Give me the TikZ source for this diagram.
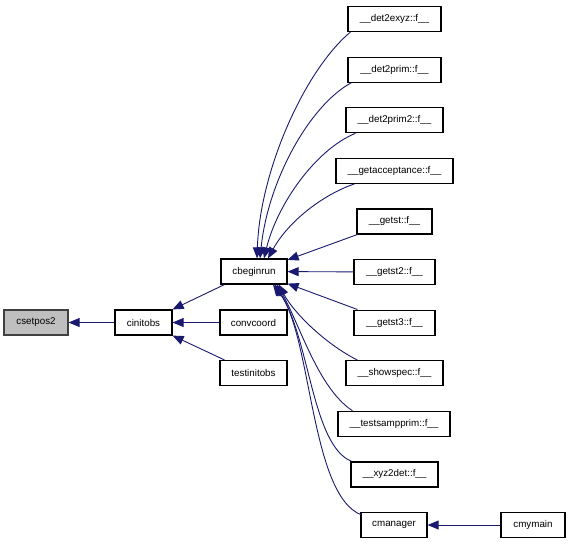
\documentclass[tikz,border=0pt]{standalone}
\usepackage{fontspec}
\setmainfont{Liberation Sans}
\usetikzlibrary{arrows.meta,calc}
\definecolor{edgecol}{RGB}{25,25,112}
\definecolor{hilite}{RGB}{191,191,191}
\begin{document}
\begin{tikzpicture}[x=1pt,y=-1pt,
  box/.style={draw=black, line width=1.2pt, minimum height=25pt, inner sep=0pt,
    font=\fontsize{9.8}{11}\selectfont, fill=white},
  edge/.style={draw=edgecol, line width=0.9pt, -{Triangle[length=11pt,width=9pt,fill=edgecol]}},
]
\useasboundingbox (0,0) rectangle (569,544);
% left part
\node[box, fill=hilite, draw=black!75, minimum width=64pt] (csetpos2) at (36,322.5) {csetpos2};
\node[box, minimum width=57pt] (cinitobs) at (143.5,322.5) {cinitobs};
\node[box, minimum width=66pt] (cbeginrun) at (254,271.5) {cbeginrun};
\node[box, minimum width=67pt] (convcoord) at (253.5,322.5) {convcoord};
\node[box, minimum width=67pt] (testinitobs) at (253.5,373) {testinitobs};
% right column
\node[box, minimum width=93pt] (det2exyz) at (394.5,19) {\_\_det2exyz::f\_\_};
\node[box, minimum width=93pt] (det2prim) at (394.5,69.6) {\_\_det2prim::f\_\_};
\node[box, minimum width=97pt] (det2prim2) at (394.5,120.2) {\_\_det2prim2::f\_\_};
\node[box, minimum width=117pt] (getacceptance) at (394.5,170.8) {\_\_getacceptance::f\_\_};
\node[box, minimum width=75pt] (getst) at (394.5,221.4) {\_\_getst::f\_\_};
\node[box, minimum width=81pt] (getst2) at (394.5,272) {\_\_getst2::f\_\_};
\node[box, minimum width=81pt] (getst3) at (394.5,322.6) {\_\_getst3::f\_\_};
\node[box, minimum width=97pt] (showspec) at (394.5,373.2) {\_\_showspec::f\_\_};
\node[box, minimum width=112pt] (testsampprim) at (394,423.8) {\_\_testsampprim::f\_\_};
\node[box, minimum width=87pt] (xyz2det) at (394.5,474.4) {\_\_xyz2det::f\_\_};
\node[box, minimum width=66pt] (cmanager) at (394,525) {cmanager};
\node[box, minimum width=64pt] (cmymain) at (533,525) {cmymain};
% edges
\draw[edge] (cinitobs) -- (csetpos2);
\draw[edge] ($(cbeginrun.south west)+(4,0)$) -- (cinitobs.north east);
\draw[edge] (convcoord) -- (cinitobs);
\draw[edge] ($(testinitobs.north west)+(5,0)$) -- (cinitobs.south east);
\draw[edge] ($(det2exyz.south west)+(3,0)$) .. controls (305,70) and (260,170) .. ($(cbeginrun.north)+(3,0)$);
\draw[edge] ($(det2prim.south west)+(4,0)$) .. controls (310,105) and (268,180) .. ($(cbeginrun.north)+(6,0)$);
\draw[edge] ($(det2prim2.south west)+(10,0)$) .. controls (315,150) and (277,205) .. ($(cbeginrun.north)+(10,0)$);
\draw[edge] ($(getacceptance.south west)+(19,0)$) .. controls (322,195) and (288,222) .. ($(cbeginrun.north)+(14,0)$);
\draw[edge] ($(getst.south west)+(1,0)$) -- ($(cbeginrun.north east)+(0,1.5)$);
\draw[edge] (getst2) -- (cbeginrun);
\draw[edge] ($(getst3.north west)+(4,0)$) -- ($(cbeginrun.south east)+(0,-1)$);
\draw[edge] ($(showspec.north west)+(12,0)$) .. controls (322,342) and (292,310) .. ($(cbeginrun.south)+(25,0)$);
\draw[edge] ($(testsampprim.north west)+(15,0)$) .. controls (318,388) and (300,325) .. ($(cbeginrun.south)+(23,0)$);
\draw[edge] ($(xyz2det.north west)+(1,0)$) .. controls (312,445) and (310,340) .. ($(cbeginrun.south)+(21,0)$);
\draw[edge] ($(cmanager.north west)+(1,3)$) .. controls (310,495) and (312,335) .. ($(cbeginrun.south)+(19,0)$);
\draw[edge] (cmymain) -- (cmanager);
\end{tikzpicture}
\end{document}
